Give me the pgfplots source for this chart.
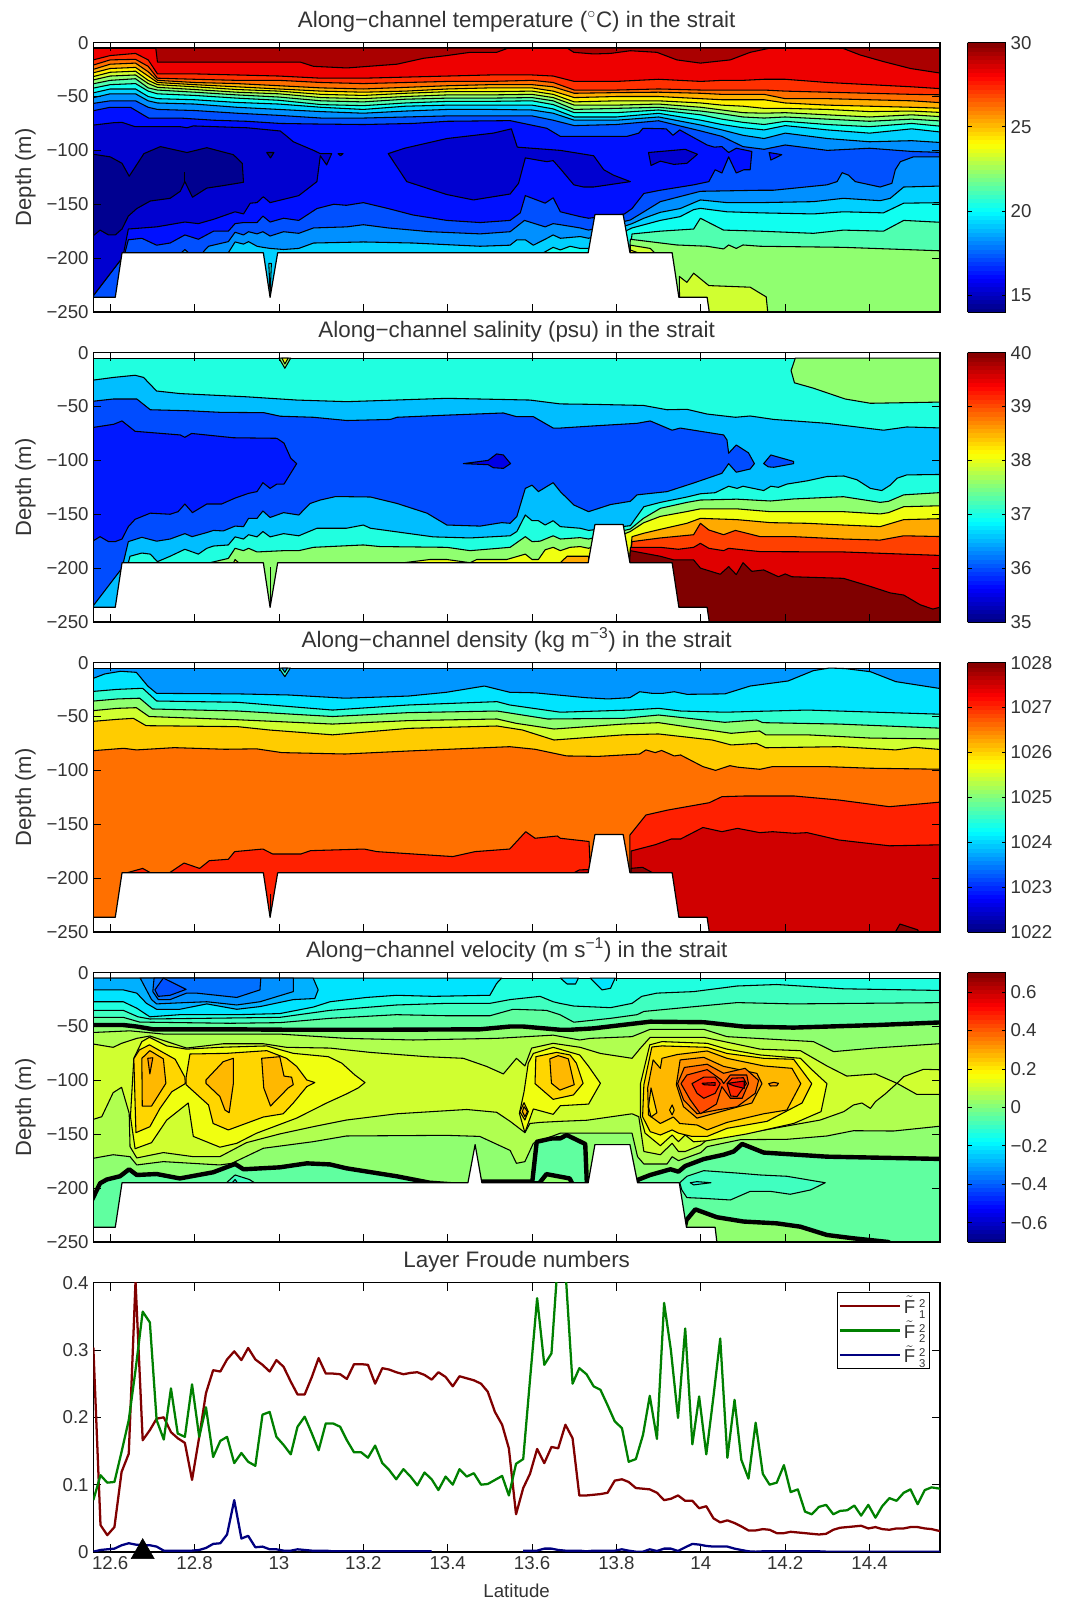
\documentclass[border=0pt]{standalone}
\usepackage{pgfplots}
\usepackage{pgfplotstable}
\pgfplotsset{compat=1.18}
\usepackage{fontspec}
\setmainfont{Liberation Sans}
\definecolor{t14}{RGB}{0,0,144}\definecolor{t15}{RGB}{0,0,208}\definecolor{t16}{RGB}{0,16,255}\definecolor{t17}{RGB}{0,80,255}
\definecolor{t18}{RGB}{0,144,255}\definecolor{t19}{RGB}{0,208,255}\definecolor{t20}{RGB}{16,255,240}\definecolor{t21}{RGB}{80,255,176}
\definecolor{t22}{RGB}{144,255,112}\definecolor{t23}{RGB}{208,255,48}\definecolor{t24}{RGB}{255,240,0}\definecolor{t25}{RGB}{255,176,0}
\definecolor{t26}{RGB}{255,112,0}\definecolor{t27}{RGB}{255,48,0}\definecolor{t28}{RGB}{238,0,0}\definecolor{t29}{RGB}{170,0,0}
\definecolor{sa}{RGB}{0,0,230}\definecolor{sb}{RGB}{0,24,255}\definecolor{sc}{RGB}{0,76,255}\definecolor{sd}{RGB}{0,190,255}
\definecolor{se}{RGB}{32,255,224}\definecolor{sf}{RGB}{144,255,112}\definecolor{sg}{RGB}{240,255,16}\definecolor{sh}{RGB}{255,170,0}
\definecolor{si}{RGB}{255,64,0}\definecolor{sj}{RGB}{224,0,0}\definecolor{sk}{RGB}{128,0,0}
\definecolor{da}{RGB}{0,150,255}\definecolor{db}{RGB}{0,228,255}\definecolor{dc}{RGB}{48,255,208}\definecolor{dd}{RGB}{144,255,112}
\definecolor{de}{RGB}{208,255,48}\definecolor{df}{RGB}{255,204,0}\definecolor{dg}{RGB}{255,112,0}\definecolor{dh}{RGB}{255,32,0}
\definecolor{di}{RGB}{208,0,0}\definecolor{dj}{RGB}{144,0,0}
\definecolor{vn8}{RGB}{0,80,255}\definecolor{vn7}{RGB}{0,112,255}\definecolor{vn6}{RGB}{0,144,255}\definecolor{vn5}{RGB}{0,176,255}
\definecolor{vn4}{RGB}{0,228,255}\definecolor{vn3}{RGB}{32,255,224}\definecolor{vn2}{RGB}{64,255,192}\definecolor{vn1}{RGB}{96,255,160}
\definecolor{v0}{RGB}{144,255,112}\definecolor{v1}{RGB}{176,255,80}\definecolor{v2}{RGB}{208,255,48}\definecolor{v3}{RGB}{240,255,16}
\definecolor{v4}{RGB}{255,214,0}\definecolor{v5}{RGB}{255,184,0}\definecolor{v6}{RGB}{255,150,0}\definecolor{v7}{RGB}{255,112,0}
\definecolor{v8}{RGB}{255,76,0}\definecolor{v9}{RGB}{255,40,0}\definecolor{v10}{RGB}{225,0,0}
\pgfplotsset{
 band/.style={fill=#1,draw=black,line width=.8pt,line join=round},
 thick0/.style={fill=#1,draw=black,line width=3.3pt,line join=round},
 base/.style={scale only axis,width=635pt,height=202pt,xmin=12.56,xmax=14.567,
  tick align=inside,tick pos=both,major tick length=6pt,
  tick style={black,line width=.6pt},axis line style={line width=.8pt},
  xtick={12.6,12.8,13,13.2,13.4,13.6,13.8,14,14.2,14.4},
  tick label style={font=\fontsize{14}{16}\selectfont,text=black!80},
  label style={font=\fontsize{14}{16}\selectfont,text=black!80},
  title style={font=\fontsize{16.8}{19}\selectfont,text=black!80,yshift=-1.5pt},
  },
 panel/.style={base,ymin=-250,ymax=0,axis on top,xticklabels={},
  ytick={-250,-200,-150,-100,-50,0},yticklabels={−250,−200,−150,−100,−50,0},
  ylabel={Depth (m)},
  every axis y label/.style={at={(axis description cs:-0.0803,0.5)},rotate=90,anchor=center,font=\fontsize{16.5}{18}\selectfont,text=black!80},
  colormap/jet,colorbar sampled},
 cb/.style={samples=65,at={(parent axis.north east)},anchor=north west,xshift=12.1pt,width=28.8pt,height=202pt,
  tick align=inside,major tick length=3pt,tick style={black,line width=.5pt},
  yticklabel pos=right,axis line style={line width=.7pt},
  tick label style={font=\fontsize{14}{16}\selectfont,text=black!80}},
}
\newcommand\poly[2]{\addplot[band=#1] coordinates {#2} --cycle;}
\newcommand\lay[3][12.55]{\addplot[band=#2] coordinates {#3 (14.58,-260) (#1,-260)} --cycle;}
\newcommand\terrainA{\addplot[fill=white,draw=black,line width=.9pt,line join=round] coordinates {(12.55,-236.4)(12.612,-236.4)(12.628,-195)(12.963,-195)(12.979,-236.4)(12.997,-195)(13.733,-195)(13.749,-159.6)(13.816,-159.6)(13.832,-195)(13.932,-195)(13.948,-236.4)(14.015,-236.4)(14.02,-250)(14.02,-262)(12.55,-262)} --cycle;}
\newcommand\Fent[1]{\rule[-8pt]{0pt}{21pt}\smash{$\tilde{\mbox{F}}$\hspace{3pt}\rlap{\raisebox{4.5pt}{\fontsize{8.5}{9}\selectfont 2}}\raisebox{-3.5pt}{\fontsize{8.5}{9}\selectfont #1}}}
\pgfplotstableread{
lat L28 L27 L26 L25 L24 L23 L22 L21 L20 L19 L18
12.55 -17 -22 -26 -29 -32.5 -35.5 -39 -43 -47.5 -52 -57
12.60 -12 -16 -20 -24 -27.5 -31 -35 -39 -43 -47.5 -54
12.66 -10 -15.5 -19 -23 -26.5 -30 -33.5 -38 -43 -47.5 -54
12.69 -16 -22 -27 -31 -35 -38 -42 -45 -50 -54 -60
12.712 -29 -33 -35 -37 -39 -41.5 -44 -47.5 -52 -56 -62
12.8 -29 -34 -37 -39 -41 -43.5 -46 -49 -53 -57 -63
12.9 -30 -35 -38 -41 -43.5 -46 -48.5 -51.5 -55.5 -60 -65.5
13.0 -31 -35 -40 -43 -45 -47.5 -50.5 -53.5 -57 -62 -67.5
13.1 -33 -37 -42 -45 -48 -51 -54 -57.5 -60 -64 -70
13.2 -33 -38 -43 -46 -49 -52 -55 -58.5 -62 -65.5 -70
13.3 -32 -37 -41.5 -45 -47 -50 -52.5 -56 -59 -63.5 -69
13.4 -31 -36 -40 -43 -45.5 -48.5 -51.5 -54.5 -58 -62 -68
13.5 -30 -36 -39 -42 -45.5 -48.5 -51.5 -54.5 -58 -62 -68
13.6 -30 -35 -39 -42 -45 -48 -51 -54 -58 -62.5 -68
13.65 -31 -37 -41 -45 -48 -51 -54 -57.5 -61.5 -65.5 -72
13.7 -36 -44 -47 -51 -55 -58 -62 -65 -69 -72 -77
13.8 -36 -44 -46.4 -50 -54 -58 -61 -65 -69 -72 -76
13.9 -34 -43 -46 -50 -54 -57 -60 -62.5 -65.6 -69 -72.5
14.0 -36 -44 -47 -52 -56 -60 -63.5 -67 -72 -76.5 -82
14.05 -35 -44 -48 -53 -58 -62.5 -66 -71 -76 -81 -87
14.1 -35 -44 -48 -53 -59 -65 -69 -74 -79 -86 -96.5
14.15 -34 -44 -48 -53 -61 -65.5 -70 -76 -81 -89 -99
14.2 -34 -45 -52 -56 -61 -65 -69 -73 -77 -84 -95
14.3 -37 -46 -52 -58 -62 -67 -71 -76 -81 -89 -100
14.4 -39 -47 -53 -59 -64 -69 -73 -78 -84 -92 -98
14.5 -41 -48 -54 -60 -63.5 -67 -71 -75 -80 -91 -101
14.58 -43 -48.5 -56 -61 -65 -69 -73 -78 -83.5 -93 -102
14.58 -260 -260 -260 -260 -260 -260 -260 -260 -260 -260 -260
12.55 -260 -260 -260 -260 -260 -260 -260 -260 -260 -260 -260
}\Tup
\pgfplotstableread{
lat red green blue
12.56 .304 .077 .0005
12.577 .040 .114 .003
12.593 .025 .103 .004
12.61 .037 .104 .005
12.627 .119 .149 .01
12.644 .146 .196 .013
12.66 .402 .27 .011
12.677 .166 .357 .01
12.694 .181 .341 .01
12.71 .198 .196 .008
12.727 .2 .167 .002
12.744 .178 .243 .002
12.76 .169 .176 .002
12.777 .162 .171 .002
12.794 .107 .249 .002
12.811 .171 .171 .003
12.827 .236 .215 .006
12.844 .27 .141 .012
12.861 .268 .165 .013
12.877 .286 .171 .026
12.894 .298 .132 .077
12.911 .285 .147 .02
12.927 .303 .134 .024
12.944 .286 .128 .007
12.961 .278 .204 .008
12.978 .268 .208 .004
12.994 .285 .171 .004
13.011 .275 .159 .002
13.028 .253 .145 .002
13.044 .234 .186 .004
13.061 .234 .201 .003
13.078 .26 .176 .002
13.094 .288 .151 .002
13.111 .265 .191 .002
13.128 .265 .191 .001
13.145 .264 .186 .001
13.161 .257 .166 .001
13.178 .279 .148 .001
13.195 .279 .148 .001
13.211 .278 .14 .001
13.228 .25 .158 .001
13.245 .273 .132 .001
13.261 .271 .122 .001
13.278 .267 .108 .001
13.295 .264 .123 .001
13.312 .266 .112 .001
13.328 .267 .099 .001
13.345 .263 .118 .001
13.362 .256 .108 .001
13.378 .267 .092 nan
13.395 .26 .112 nan
13.412 .246 .1 nan
13.428 .261 .123 nan
13.445 .258 .112 nan
13.462 .255 .117 nan
13.479 .25 .1 nan
13.495 .238 .101 nan
13.512 .208 .107 nan
13.529 .189 .113 nan
13.545 .154 .084 nan
13.562 .056 .131 nan
13.579 .095 .138 .002
13.595 .116 .255 .002
13.612 .153 .377 .002
13.629 .132 .278 .005
13.646 .156 .295 .005
13.662 .154 .44 .003
13.679 .189 .42 .002
13.696 .169 .25 .002
13.712 .084 .273 .002
13.729 .084 .264 .001
13.746 .085 .246 .002
13.762 .086 .241 .002
13.779 .088 .218 .002
13.796 .106 .194 .002
13.813 .108 .184 .004
13.829 .104 .134 .002
13.846 .095 .138 .0005
13.863 .094 .174 .0005
13.879 .093 .232 .004
13.896 .088 .168 .0015
13.913 .077 .37 .005
13.929 .079 .3 .005
13.946 .084 .199 .0015
13.963 .076 .332 .007
13.98 .076 .16 .012
13.996 .065 .231 .011
14.013 .068 .145 .009
14.03 .05 .231 .008
14.046 .044 .317 .008
14.063 .047 .14 .008
14.08 .043 .226 .005
14.096 .038 .137 .003
14.113 .032 .109 .001
14.13 .032 .192 .0005
14.147 .034 .116 .001
14.163 .033 .1 .001
14.18 .028 .103 .001
14.197 .028 .129 .001
14.213 .03 .089 .001
14.23 .029 .093 .001
14.247 .028 .06 .001
14.263 .027 .056 .001
14.28 .026 .067 .001
14.297 .027 .07 .0005
14.314 .033 .056 .0005
14.33 .036 .061 .0005
14.347 .037 .062 .0005
14.364 .038 .069 .0005
14.38 .039 .054 .0005
14.397 .035 .07 .0005
14.414 .037 .051 .0005
14.43 .034 .068 .0005
14.447 .033 .08 .0005
14.464 .035 .076 .0005
14.481 .035 .088 .0005
14.497 .037 .093 .0005
14.514 .037 .071 .0005
14.531 .035 .092 .0005
14.547 .034 .096 .0005
14.567 .031 .094 .0005
}\Tfr
\begin{document}
\begin{tikzpicture}
\path[use as bounding box] (0,0) rectangle (801.75pt,1200.75pt);
% ---------- temperature
\begin{axis}[panel,at={(70pt,966.75pt)},anchor=south west,
 title={Along−channel temperature ($^{\circ}$C) in the strait},
 point meta min=14,point meta max=30,
 colorbar style={cb,ytick={15,20,25,30},yticklabels={15,20,25,30}}]
\poly{t28}{(12.55,-5)(14.58,-5)(14.58,-260)(12.55,-260)}
\poly{t29}{(12.708,-5)(12.712,-18)(12.805,-18)(12.923,-18)(13.05,-18)(13.082,-22)(13.161,-23.5)(13.28,-20)(13.343,-14.5)(13.398,-12)(13.453,-9)(13.516,-9)(13.544,-5)}
\poly{t29}{(13.683,-5)(13.699,-9)(13.746,-10.5)(13.786,-10)(13.833,-7.5)(13.896,-9)(13.943,-16)(13.999,-19)(14.07,-16)(14.117,-9)(14.165,-5)}
\poly{t29}{(14.335,-5)(14.378,-11.5)(14.433,-17.6)(14.497,-24)(14.58,-29)(14.58,-5)}
\addplot[band=t27] table[x=lat,y=L28]{\Tup} --cycle;
\addplot[band=t26] table[x=lat,y=L27]{\Tup} --cycle;
\addplot[band=t25] table[x=lat,y=L26]{\Tup} --cycle;
\addplot[band=t24] table[x=lat,y=L25]{\Tup} --cycle;
\addplot[band=t23] table[x=lat,y=L24]{\Tup} --cycle;
\addplot[band=t22] table[x=lat,y=L23]{\Tup} --cycle;
\addplot[band=t21] table[x=lat,y=L22]{\Tup} --cycle;
\addplot[band=t20] table[x=lat,y=L21]{\Tup} --cycle;
\addplot[band=t19] table[x=lat,y=L20]{\Tup} --cycle;
\addplot[band=t18] table[x=lat,y=L19]{\Tup} --cycle;
\addplot[band=t17] table[x=lat,y=L18]{\Tup} --cycle;
\poly{t16}{(12.55,-64)(12.6,-60)(12.648,-60)(12.691,-70)(12.766,-70)(12.845,-72)(12.924,-73)(13.003,-75)(13.082,-75.5)(13.2,-76)(13.318,-75)(13.398,-73)(13.548,-72.4)(13.635,-79.5)(13.667,-87)(13.825,-87)(13.853,-84)(13.863,-79.5)(13.918,-80)(13.934,-86)(13.95,-81)(14.015,-95)(14.032,-97)(14.05,-96.5)(14.066,-102)(14.084,-98)(14.121,-101)(14.117,-118)(14.102,-118)(14.084,-121)(14.066,-106)(14.05,-121)(14.034,-118)(14.019,-129)(13.983,-132)(13.904,-137)(13.865,-140)(13.837,-154)(13.819,-159)(13.734,-163)(13.714,-161.5)(13.667,-157)(13.65,-144)(13.631,-149)(13.584,-142)(13.572,-158)(13.548,-165)(13.477,-167)(13.398,-165)(13.318,-160)(13.259,-154)(13.2,-148.5)(13.16,-151)(13.13,-150)(13.09,-154)(13.047,-165)(13.011,-163)(12.979,-166.5)(12.962,-161)(12.948,-167)(12.916,-167)(12.896,-168)(12.88,-175)(12.845,-175)(12.809,-182.5)(12.777,-178.5)(12.742,-186)(12.71,-188)(12.675,-181.6)(12.643,-183)(12.635,-195)(12.628,-200)(12.55,-240)}
\poly{t15}{(12.55,-77)(12.608,-74.3)(12.628,-74)(12.659,-78)(12.766,-78)(12.782,-79)(12.797,-77.3)(12.924,-79)(13.003,-82)(13.019,-87)(13.034,-92)(13.082,-100)(13.098,-103)(13.125,-103)(13.113,-113.5)(13.098,-105)(13.09,-129)(13.047,-142)(12.979,-148.5)(12.963,-143)(12.948,-148.5)(12.932,-149)(12.916,-159)(12.896,-157)(12.845,-164)(12.809,-168)(12.777,-166.5)(12.71,-171)(12.643,-173)(12.632,-195)(12.628,-200)(12.55,-240)}
\poly{t15}{(13.259,-103)(13.298,-98)(13.398,-89)(13.508,-84)(13.551,-80)(13.565,-97)(13.667,-100)(13.746,-105)(13.77,-118)(13.793,-123)(13.833,-129)(13.746,-134)(13.722,-134)(13.699,-132)(13.667,-117)(13.65,-109.5)(13.635,-110.5)(13.584,-107)(13.568,-130.6)(13.548,-140.5)(13.461,-146)(13.398,-141)(13.303,-129)}
\poly{t15}{(13.876,-102)(13.882,-114)(13.904,-110)(13.936,-113)(13.967,-112)(13.992,-103.6)(13.963,-99)}
\poly{t16}{(14.162,-102)(14.166,-109)(14.192,-104)}
\poly{t14}{(12.971,-102)(12.98,-107)(12.988,-102)}
\poly{t15}{(13.14,-103)(13.146,-105)(13.152,-103)}
\poly{t14}{(12.55,-182.5)(12.576,-174)(12.596,-178.5)(12.612,-178.5)(12.628,-173)(12.643,-161)(12.663,-154)(12.695,-147)(12.742,-144.5)(12.766,-138)(12.777,-129)(12.795,-143.5)(12.829,-135)(12.868,-132.7)(12.916,-129.6)(12.913,-112)(12.892,-104)(12.829,-97.5)(12.782,-102)(12.719,-96.5)(12.68,-103)(12.645,-124)(12.628,-112)(12.6,-106)(12.55,-103)}
\addplot[draw=black,line width=.8pt] coordinates {(12.777,-120)(12.777,-129)};
\lay[12.64]{t18}{(12.64,-200)(12.755,-200)(12.777,-192)(12.80,-200)(12.82,-200)(12.821,-194)(12.833,-189)(12.88,-184.7)(12.896,-176)(12.916,-178.5)(12.928,-175.5)(12.948,-177.5)(12.962,-175.5)(12.979,-179.5)(13.011,-175.5)(13.047,-177)(13.082,-172)(13.161,-171)(13.2,-169)(13.259,-172)(13.358,-175.5)(13.477,-177.5)(13.548,-175.5)(13.582,-165)(13.631,-171)(13.65,-168)(13.667,-169)(13.714,-172)(13.734,-174)(13.833,-164.6)(13.865,-157)(13.904,-147.6)(13.999,-138)(14.141,-137)(14.172,-137)(14.299,-132)(14.323,-129)(14.335,-120.7)(14.35,-123)(14.366,-129)(14.425,-134)(14.453,-130.6)(14.461,-118)(14.473,-110.5)(14.504,-106)(14.58,-106)}
\lay[12.87]{t19}{(12.87,-200)(12.88,-195)(12.896,-185)(12.916,-187)(12.928,-184.7)(12.948,-189)(12.962,-190)(12.979,-191)(13.011,-192)(13.047,-191)(13.082,-186)(13.2,-185)(13.318,-186)(13.477,-189)(13.548,-188)(13.564,-183)(13.584,-183)(13.603,-188)(13.631,-182.5)(13.65,-178.5)(13.667,-181.6)(13.714,-180)(13.734,-181.6)(13.837,-168)(13.865,-163)(13.904,-157.5)(13.951,-154)(13.999,-146)(14.062,-148.5)(14.141,-148.5)(14.267,-147.6)(14.338,-144.5)(14.425,-146.7)(14.449,-144.5)(14.481,-134)(14.58,-133)}
\lay[13.62]{t20}{(13.62,-200)(13.627,-195)(13.65,-190)(13.667,-192.4)(13.69,-189)(13.714,-191)(13.734,-191)(13.837,-172)(13.904,-165)(13.951,-161.5)(13.983,-155)(13.999,-153.8)(14.062,-157)(14.141,-158)(14.267,-159)(14.338,-157)(14.433,-158)(14.481,-149)(14.58,-148.5)}
\lay[13.83]{t21}{(13.83,-200)(13.837,-177.6)(13.904,-175)(13.983,-173)(13.999,-163)(14.054,-174)(14.141,-175)(14.267,-177)(14.338,-174)(14.433,-175)(14.481,-165)(14.58,-167)}
\lay[13.83]{t22}{(13.83,-200)(13.833,-182.5)(13.943,-187.8)(14.015,-189)(14.054,-191.5)(14.066,-187.8)(14.084,-191)(14.1,-187.8)(14.141,-189)(14.338,-190)(14.58,-193.4)}
\poly{t23}{(13.949,-217)(13.967,-222.5)(13.983,-214)(14.019,-225.5)(14.117,-227)(14.155,-236)(14.16,-255)(13.95,-255)}
\poly{t23}{(13.833,-188)(13.88,-191)(13.896,-197)(13.833,-197)}
\poly{t24}{(13.833,-192.5)(13.865,-197)(13.833,-197)}
\poly{t20}{(12.976,-205)(12.979,-234)(12.982,-205)}
\terrainA
\end{axis}
% ---------- salinity
\begin{axis}[panel,at={(70pt,734.25pt)},anchor=south west,
 title={Along−channel salinity (psu) in the strait},
 point meta min=35,point meta max=40,
 colorbar style={cb,ytick={35,36,37,38,39,40},yticklabels={35,36,37,38,39,40}}]
\poly{se}{(12.55,-5)(14.58,-5)(14.58,-260)(12.55,-260)}
\poly{sf}{(14.224,-5)(14.214,-16.7)(14.222,-28)(14.267,-33)(14.342,-43)(14.402,-47)(14.58,-45.8)(14.58,-5)}
\poly{sf}{(13,-5)(13.014,-14.5)(13.028,-5)}
\poly{sg}{(13.007,-5)(13.014,-10.5)(13.022,-5)}
\lay{sd}{(12.55,-26)(12.608,-23)(12.659,-21)(12.679,-23)(12.71,-35.6)(12.766,-38)(12.924,-41)(13.042,-44)(13.161,-45.5)(13.398,-42.4)(13.595,-44)(13.667,-47.6)(13.746,-48)(13.864,-49)(13.92,-53)(13.967,-52.6)(14.015,-57)(14.082,-60)(14.117,-58.8)(14.173,-62)(14.299,-65.6)(14.433,-72)(14.488,-69)(14.58,-70)}
\poly{sc}{(12.55,-45.5)(12.608,-43)(12.663,-43)(12.695,-53)(12.79,-54)(12.861,-55.4)(12.964,-55.7)(13.003,-59)(13.082,-60)(13.161,-63)(13.264,-62)(13.28,-60)(13.398,-58)(13.532,-56)(13.563,-59.4)(13.603,-59.4)(13.65,-70)(13.667,-70)(13.746,-68)(13.849,-65.6)(13.88,-63.4)(13.932,-72)(13.951,-70)(14.054,-76.4)(14.062,-81)(14.066,-93.4)(14.084,-85.7)(14.113,-93)(14.127,-103)(14.117,-108)(14.084,-111)(14.066,-103)(14.05,-112)(13.983,-121)(13.92,-129)(13.849,-132)(13.833,-138)(13.786,-141)(13.734,-147.6)(13.699,-141.4)(13.667,-129)(13.65,-120.7)(13.615,-129)(13.6,-123)(13.584,-126)(13.564,-152)(13.548,-158.4)(13.528,-157.8)(13.477,-161)(13.398,-160)(13.351,-149)(13.28,-140)(13.217,-134)(13.161,-133.7)(13.133,-133.7)(13.098,-136.8)(13.074,-140)(13.047,-150.7)(13.011,-148.5)(12.979,-153)(12.962,-147)(12.948,-153.8)(12.928,-153.8)(12.916,-161.5)(12.896,-161)(12.868,-165.5)(12.845,-165)(12.829,-167)(12.794,-170.8)(12.777,-168)(12.742,-173)(12.71,-175)(12.675,-171.4)(12.643,-175.4)(12.628,-200)(12.55,-240)}
\poly{sc}{(14.149,-103)(14.166,-95)(14.22,-101)(14.22,-103)(14.173,-106.4)(14.16,-106)}
\poly{sb}{(12.55,-70)(12.608,-66.5)(12.628,-63.4)(12.659,-73)(12.766,-76.4)(12.777,-78.6)(12.793,-75)(12.892,-79)(12.995,-79.5)(13.012,-84)(13.028,-98)(13.042,-103)(13.012,-122)(12.995,-122)(12.979,-126)(12.962,-120.7)(12.948,-129)(12.928,-130.6)(12.896,-135)(12.864,-140.5)(12.829,-140.5)(12.795,-148.5)(12.777,-140.5)(12.761,-147.6)(12.742,-150)(12.695,-149)(12.659,-154.7)(12.643,-161.5)(12.628,-173)(12.612,-175.4)(12.596,-175.4)(12.576,-170.8)(12.55,-177)}
\poly{sa}{(13.437,-103)(13.496,-100)(13.516,-94)(13.532,-95)(13.549,-103)(13.532,-107.4)(13.508,-106.8)(13.496,-104)}
\lay[12.63]{se}{(12.63,-200)(12.643,-195)(12.647,-189)(12.675,-186)(12.695,-187)(12.712,-194)(12.742,-189)(12.777,-182.5)(12.809,-187)(12.829,-181.6)(12.845,-179.5)(12.88,-178.5)(12.896,-171)(12.916,-173)(12.928,-169)(12.948,-171)(12.962,-166)(12.979,-171)(13.011,-168)(13.047,-170)(13.09,-163)(13.16,-163)(13.2,-160)(13.217,-163)(13.366,-171)(13.453,-172)(13.548,-170)(13.564,-166)(13.584,-150.7)(13.6,-156)(13.615,-156)(13.631,-160)(13.65,-156)(13.667,-161.5)(13.714,-163)(13.734,-165)(13.833,-160.6)(13.865,-143)(13.904,-139)(13.967,-134)(13.999,-131)(14.034,-130)(14.066,-124)(14.086,-126)(14.1,-124)(14.149,-128)(14.166,-124)(14.184,-125)(14.204,-122)(14.252,-119)(14.299,-115)(14.339,-114.5)(14.37,-118)(14.402,-126)(14.429,-128)(14.449,-123)(14.465,-116.6)(14.488,-113.5)(14.58,-113)}
\lay[12.83]{sf}{(12.83,-200)(12.836,-195)(12.88,-191)(12.896,-181.6)(12.916,-183.8)(12.928,-181.6)(12.948,-185)(13.011,-183.8)(13.047,-183.8)(13.082,-180.7)(13.2,-178.5)(13.24,-180)(13.398,-180.7)(13.453,-183.8)(13.548,-180.7)(13.584,-170.8)(13.6,-175.4)(13.619,-175)(13.65,-170)(13.667,-173)(13.714,-171.7)(13.734,-173)(13.833,-163.7)(13.864,-153.8)(13.904,-144.5)(13.967,-139)(13.999,-136.8)(14.086,-136)(14.165,-137.7)(14.22,-135.8)(14.338,-133.7)(14.425,-139)(14.445,-138)(14.481,-132)(14.58,-129.6)}
\poly{sg}{(12.89,-197)(12.896,-192)(12.91,-197)}
\lay[13.29]{sg}{(13.29,-200)(13.296,-195)(13.358,-192)(13.398,-192)(13.453,-195)(13.469,-192)(13.54,-192)(13.584,-187)(13.6,-192)(13.615,-192)(13.631,-183)(13.65,-180.7)(13.667,-183.8)(13.69,-180.7)(13.714,-180)(13.734,-181.6)(13.833,-166)(13.864,-158)(13.904,-152)(13.967,-147.5)(13.999,-145)(14.086,-145)(14.165,-147.6)(14.338,-147.6)(14.425,-149.7)(14.445,-148.5)(14.481,-143)(14.58,-142)}
\poly{sh}{(13.66,-197)(13.667,-195)(13.683,-189)(13.734,-189)(13.734,-197)}
\lay[13.83]{sh}{(13.83,-200)(13.837,-170.8)(13.864,-167.7)(13.904,-164)(13.967,-158.4)(13.999,-153.8)(14.086,-155)(14.165,-157.8)(14.252,-158.4)(14.338,-160)(14.425,-161.5)(14.481,-155)(14.58,-154)}
\lay[13.83]{si}{(13.83,-200)(13.837,-175.4)(13.904,-172)(13.983,-169)(13.999,-158.4)(14.019,-164.6)(14.054,-169)(14.082,-165)(14.141,-170.8)(14.22,-170.8)(14.338,-173)(14.425,-174)(14.481,-170)(14.58,-170.8)}
\lay[13.83]{sj}{(13.83,-200)(13.833,-180.7)(13.904,-180.7)(13.947,-182.5)(13.983,-180.7)(13.999,-177)(14.019,-181.6)(14.054,-183.8)(14.066,-181.6)(14.141,-184.7)(14.338,-185)(14.58,-188.4)}
\lay[13.83]{sk}{(13.83,-200)(13.833,-183.8)(13.904,-189)(13.936,-192.4)(13.983,-192.4)(13.999,-200)(14.046,-205.7)(14.066,-198.6)(14.084,-206)(14.1,-195)(14.121,-203)(14.149,-201.7)(14.184,-208)(14.2,-205.4)(14.216,-208)(14.338,-209.5)(14.402,-217)(14.449,-223)(14.481,-225)(14.52,-234)(14.55,-238)(14.58,-235)}
\addplot[draw=black,line width=.8pt] coordinates {(12.979,-199)(12.979,-236)};
\terrainA
\end{axis}
% ---------- density
\begin{axis}[panel,at={(70pt,501.75pt)},anchor=south west,
 title={Along−channel density (kg m\textsuperscript{−3}) in the strait},
 point meta min=1022,point meta max=1028,
 colorbar style={cb,ytick={1022,1023,1024,1025,1026,1027,1028},yticklabels={1022,1023,1024,1025,1026,1027,1028}}]
\poly{da}{(12.55,-5)(14.58,-5)(14.58,-260)(12.55,-260)}
\lay{db}{(12.55,-16)(12.587,-10.5)(12.625,-8)(12.662,-9)(12.689,-21.7)(12.71,-28.5)(12.902,-29)(13.022,-30)(13.157,-33)(13.307,-31)(13.397,-27.5)(13.487,-21.7)(13.547,-27.5)(13.607,-28)(13.727,-32.5)(13.78,-33.7)(13.832,-32.5)(13.855,-27)(13.885,-28.5)(13.91,-28.5)(13.937,-27)(13.967,-29.4)(14.057,-29)(14.117,-21.7)(14.207,-17)(14.267,-7.4)(14.305,-5)(14.342,-5.5)(14.402,-8.4)(14.462,-17.6)(14.58,-24.8)}
\lay{dc}{(12.55,-27)(12.617,-24.8)(12.677,-23.8)(12.71,-35.6)(12.902,-36.8)(13.127,-44)(13.307,-39.3)(13.517,-36.2)(13.547,-39.3)(13.667,-46)(13.832,-44)(13.9,-42.4)(13.952,-44.9)(14.057,-46)(14.252,-44)(14.58,-48)}
\lay{dd}{(12.55,-36)(12.617,-33.7)(12.67,-33)(12.7,-43)(12.902,-44.9)(13.127,-50)(13.307,-46.4)(13.517,-44.9)(13.637,-52.3)(13.817,-51.7)(13.9,-48.6)(14.057,-55.4)(14.132,-53.2)(14.147,-55.7)(14.327,-57)(14.58,-61)}
\lay{de}{(12.55,-44.9)(12.617,-42.4)(12.662,-41.8)(12.692,-50)(12.902,-53)(13.127,-57)(13.307,-53.8)(13.517,-52.3)(13.562,-56.3)(13.652,-61.6)(13.817,-57)(13.9,-55.7)(14.072,-65.6)(14.139,-63.4)(14.154,-67)(14.252,-67)(14.402,-70)(14.58,-70.9)}
\lay{df}{(12.55,-54.8)(12.617,-52.6)(12.655,-51.7)(12.685,-58.5)(12.902,-59.4)(12.977,-62.5)(13.127,-67)(13.307,-61)(13.517,-58.8)(13.577,-62.5)(13.652,-71.8)(13.817,-67)(13.9,-66.2)(14.027,-71.8)(14.072,-76.4)(14.132,-75)(14.154,-79)(14.327,-78)(14.462,-81)(14.507,-78.6)(14.58,-81)}
\lay{dg}{(12.55,-82)(12.632,-79.5)(12.662,-81)(12.752,-78.9)(12.872,-80.4)(12.947,-80)(13.007,-83.5)(13.157,-84.8)(13.307,-82)(13.547,-78)(13.607,-80.4)(13.682,-86.6)(13.757,-87)(13.855,-84.8)(13.87,-81)(13.892,-83.5)(13.907,-81.5)(13.937,-86.6)(13.952,-85.7)(14.005,-96.5)(14.035,-100)(14.069,-95.6)(14.087,-97)(14.14,-99)(14.17,-96.5)(14.297,-96.5)(14.402,-98)(14.58,-99)}
\lay[12.63]{dh}{(12.63,-200)(12.64,-195)(12.677,-191)(12.7,-196)(12.737,-196)(12.775,-186)(12.812,-191)(12.835,-183.8)(12.88,-182.5)(12.895,-175.4)(12.962,-173)(12.985,-177.6)(13.052,-177.6)(13.075,-174.5)(13.202,-173)(13.232,-175.4)(13.412,-180)(13.465,-175.4)(13.547,-173)(13.585,-156.9)(13.607,-163)(13.66,-160.9)(13.667,-163)(13.735,-166)(13.739,-200)(13.832,-200)(13.832,-160)(13.87,-141.4)(13.922,-136.8)(14.02,-130)(14.05,-124.4)(14.102,-123.8)(14.222,-123.8)(14.327,-127.5)(14.447,-133.7)(14.58,-129)}
\lay[13.69]{di}{(13.69,-197)(13.712,-192.4)(13.735,-192)(13.74,-200)(13.835,-200)(13.835,-174.8)(13.892,-169)(13.93,-163.7)(13.952,-163.7)(14.005,-153)(14.05,-156.9)(14.087,-153.8)(14.14,-157.8)(14.17,-156.9)(14.222,-158.4)(14.252,-157.8)(14.327,-164.6)(14.447,-170)(14.58,-169)}
\poly{dj}{(13.835,-190.9)(13.862,-190)(13.895,-197)(13.835,-197)}
\poly{dj}{(14.454,-255)(14.472,-242.6)(14.514,-248)(14.522,-255)}
\poly{dc}{(13,-5)(13.014,-13)(13.027,-5)}
\poly{da}{(13.007,-5)(13.014,-9)(13.02,-5)}
\addplot[draw=black,line width=.8pt] coordinates {(12.979,-215)(12.979,-236)};
\terrainA
\end{axis}
% ---------- velocity
\begin{axis}[panel,at={(70pt,269.25pt)},anchor=south west,
 title={Along−channel velocity (m s\textsuperscript{−1}) in the strait},
 point meta min=-0.7,point meta max=0.7,
 colorbar style={cb,ytick={-0.6,-0.4,-0.2,0,0.2,0.4,0.6},yticklabels={−0.6,−0.4,−0.2,0,0.2,0.4,0.6}}]
\poly{vn3}{(12.55,-5)(14.58,-5)(14.58,-260)(12.55,-260)}
\poly{vn4}{(12.55,-5)(12.55,-27)(12.631,-27)(12.663,-33)(12.694,-41)(12.765,-39)(12.9,-39)(13.002,-38)(13.081,-32)(13.121,-27)(13.208,-23)(13.279,-21)(13.366,-22)(13.5,-21)(13.516,-10)(13.528,-5)}
\poly{vn5}{(12.55,-5)(12.55,-16)(12.631,-16)(12.663,-19)(12.686,-28.5)(12.71,-34)(12.765,-34)(12.829,-29)(12.9,-34)(12.955,-31.5)(13.034,-25)(13.085,-24)(13.093,-16)(13.081,-5)}
\poly{vn6}{(12.671,-5)(12.698,-25)(12.71,-29)(12.765,-28)(12.829,-27)(12.9,-30)(12.955,-27)(13.034,-17.6)(13.034,-5)}
\poly{vn7}{(12.704,-5)(12.701,-17.6)(12.714,-25)(12.742,-25)(12.781,-19)(12.805,-19)(12.9,-23)(12.955,-16)(12.957,-5)}
\poly{vn8}{(12.706,-16)(12.726,-5)(12.78,-15.5)(12.742,-21)(12.714,-22)}
\poly{vn4}{(13.667,-5)(13.683,-10.5)(13.703,-10.5)(13.71,-5)}
\poly{vn4}{(13.738,-5)(13.766,-16)(13.786,-14.5)(13.797,-5)}
\lay{vn2}{(12.55,-35)(12.631,-35)(12.666,-41)(12.694,-43)(12.9,-42)(13.002,-41.5)(13.121,-35)(13.279,-30)(13.397,-28.5)(13.5,-28.5)(13.548,-25)(13.619,-22)(13.65,-27)(13.666,-28.5)(13.699,-31)(13.786,-32.5)(13.837,-28.5)(13.86,-22)(13.896,-19)(13.983,-17.6)(14.086,-12.4)(14.18,-11)(14.339,-15)(14.58,-16.6)}
\lay{vn1}{(12.55,-41.5)(12.631,-41.5)(12.671,-46)(12.694,-46)(12.884,-47)(13.002,-46.4)(13.121,-42.4)(13.279,-39)(13.397,-40)(13.5,-40)(13.555,-34)(13.634,-35)(13.666,-39)(13.699,-46)(13.786,-42.4)(13.849,-39)(13.865,-36)(13.983,-31.6)(14.086,-27.8)(14.22,-29)(14.58,-27.8)}
\addplot[thick0=v0] coordinates {(12.55,-48.6)(12.631,-48.6)(12.663,-50)(12.702,-52.6)(12.884,-52.6)(13.026,-53)(13.239,-53)(13.476,-52.6)(13.548,-50)(13.579,-50)(13.666,-53)(13.691,-53)(13.746,-51.7)(13.88,-45.5)(14.007,-46)(14.1,-50)(14.22,-51)(14.418,-48.6)(14.58,-46)(14.58,-260)(12.55,-260)} --cycle;
\poly{v1}{(12.55,-55.7)(12.647,-54)(12.726,-57)(12.844,-57)(13.002,-57)(13.16,-61)(13.318,-62.5)(13.516,-61)(13.65,-58)(13.713,-62.5)(13.738,-61)(13.837,-59.4)(13.88,-52.6)(14.007,-52.6)(14.062,-59.4)(14.267,-64)(14.315,-73.3)(14.41,-70)(14.58,-65.6)(14.58,-142)(14.457,-147)(14.362,-146.7)(14.299,-151.6)(14.204,-154.7)(14.094,-155)(14.015,-161.5)(14,-167)(13.947,-174.5)(13.932,-170.8)(13.92,-177.6)(13.865,-177.6)(13.85,-170.8)(13.837,-149)(13.722,-149)(13.667,-149)(13.603,-158.4)(13.583,-175.4)(13.563,-177)(13.548,-165)(13.476,-152)(13.397,-151)(13.16,-151.6)(13.081,-156.9)(12.963,-163)(12.888,-177)(12.86,-178.5)(12.726,-175.4)(12.663,-178.5)(12.647,-170.8)(12.607,-169)(12.55,-173)}
\poly{v2}{(12.55,-65.6)(12.607,-69.3)(12.627,-65.6)(12.663,-61)(12.694,-58.8)(12.781,-70)(12.868,-66)(12.963,-66)(13.018,-69.3)(13.121,-70)(13.216,-74)(13.35,-78)(13.437,-79.5)(13.492,-87)(13.532,-94)(13.563,-79.5)(13.583,-86.6)(13.599,-70)(13.65,-65.6)(13.714,-69.3)(13.762,-75)(13.837,-79.5)(13.857,-70)(13.88,-60)(14.007,-60)(14.141,-71)(14.236,-72.4)(14.299,-86.6)(14.346,-96)(14.414,-94)(14.465,-102.7)(14.481,-96.5)(14.528,-89.7)(14.58,-90.3)(14.58,-113)(14.512,-113)(14.465,-102.7)(14.437,-112.6)(14.414,-119.7)(14.402,-126)(14.382,-121)(14.362,-122.8)(14.339,-129)(14.283,-136.8)(14.109,-149)(14.015,-155)(14,-160)(13.963,-166)(13.947,-166)(13.932,-158.4)(13.904,-169)(13.865,-166)(13.853,-133.7)(13.837,-131)(13.73,-137)(13.667,-138)(13.619,-139)(13.595,-140)(13.583,-148.5)(13.548,-138)(13.516,-129.6)(13.445,-127)(13.279,-131)(13.16,-136.8)(13.081,-143)(13.002,-149.7)(12.923,-157.8)(12.86,-170.8)(12.797,-170.8)(12.726,-167)(12.663,-172)(12.647,-161.5)(12.645,-130.6)(12.627,-106.4)(12.607,-111.4)(12.58,-133.7)(12.55,-137.4)}
\poly{v3}{(12.656,-79.5)(12.675,-64)(12.693,-60)(12.734,-68)(12.781,-71)(12.86,-69.3)(12.971,-68)(13.034,-74.9)(13.117,-78)(13.149,-84)(13.18,-95)(13.204,-102)(13.188,-107)(13.16,-112.6)(13.113,-121)(13.042,-135)(12.947,-149)(12.9,-158.4)(12.86,-162)(12.797,-152)(12.785,-121)(12.734,-136.8)(12.698,-157.8)(12.659,-163.4)(12.648,-133.7)}
\poly{v4}{(12.656,-79.8)(12.669,-71.8)(12.693,-67)(12.754,-80.4)(12.777,-97)(12.778,-103)(12.746,-110.5)(12.718,-126)(12.694,-143)(12.661,-148.5)}
\poly{v4}{(12.78,-97)(12.789,-75.5)(12.876,-74.9)(12.971,-72.4)(13.018,-79.5)(13.042,-87)(13.066,-99.6)(13.085,-102)(13.066,-105.8)(13.034,-121)(13.01,-131)(12.963,-134)(12.88,-146)(12.844,-140)(12.833,-122.8)(12.78,-104)}
\poly{v5}{(12.675,-79.5)(12.694,-72.4)(12.726,-80)(12.732,-102.7)(12.698,-123.8)(12.676,-123.8)}
\poly{v5}{(12.827,-99.6)(12.868,-82.6)(12.892,-79.5)(12.892,-102.7)(12.882,-130)(12.872,-127.5)(12.86,-115)(12.827,-102.7)}
\poly{v5}{(12.959,-79.5)(13.002,-78)(13.012,-96)(13.03,-97)(13.034,-104)(13.022,-107)(12.98,-123.8)(12.964,-107)}
\poly{v6}{(12.689,-79.5)(12.701,-79)(12.694,-94)}
\poly{v3}{(13.581,-110.5)(13.591,-84)(13.603,-75)(13.65,-69.3)(13.713,-76.4)(13.734,-87)(13.762,-102.7)(13.734,-122)(13.667,-123.5)(13.65,-131.5)(13.603,-126.5)(13.583,-148.5)(13.57,-130.6)}
\poly{v4}{(13.607,-103)(13.609,-78)(13.658,-74)(13.69,-76.4)(13.705,-84)(13.721,-102.7)(13.698,-113.5)(13.65,-117.6)}
\poly{v5}{(13.642,-80)(13.662,-77)(13.686,-80)(13.7,-104)(13.666,-109)(13.646,-102.7)}
\poly{v4}{(13.571,-129)(13.581,-120.7)(13.591,-129)(13.583,-136.8)}
\poly{v5}{(13.577,-129)(13.581,-124.4)(13.589,-129)(13.583,-133.7)}
\poly{v3}{(13.857,-103)(13.879,-67)(13.908,-64)(14.015,-65.6)(14.062,-71)(14.141,-76.4)(14.236,-79.5)(14.263,-90)(14.299,-103)(14.285,-129)(14.22,-140)(14.109,-149.7)(14.015,-156)(13.983,-157)(13.963,-150.7)(13.947,-156.9)(13.932,-150.7)(13.904,-160.6)(13.868,-149)(13.857,-133.7)}
\poly{v4}{(13.865,-104)(13.884,-69)(13.908,-68)(14.015,-69.3)(14.062,-75)(14.149,-79.5)(14.22,-80.4)(14.263,-103)(14.24,-121)(14.157,-138)(14.062,-144.5)(14.015,-152)(13.979,-152)(13.947,-149)(13.932,-146)(13.904,-150.7)(13.88,-147.6)(13.862,-133.7)}
\poly{v5}{(13.874,-107)(13.887,-81)(13.904,-88.8)(13.908,-79.5)(13.944,-76)(14.015,-72.7)(14.062,-79.5)(14.149,-86.6)(14.216,-88.8)(14.237,-103)(14.204,-127.5)(14.149,-131)(14.062,-139)(14.015,-146)(13.991,-141.4)(13.95,-140)(13.935,-134)(13.904,-140)(13.876,-132)}
\poly{v4}{(13.882,-107)(13.896,-130)(13.882,-134)(13.876,-124.4)}
\poly{v4}{(13.932,-122.8)(13.937,-127.5)(13.932,-132)(13.926,-127.5)}
\poly{v6}{(13.942,-104)(13.951,-81)(14.007,-78.6)(14.054,-87)(14.133,-93.5)(14.145,-103)(14.121,-121)(14.038,-130)(13.991,-135)(13.959,-124.4)}
\poly{v6}{(14.161,-103)(14.173,-101.8)(14.184,-102.7)(14.18,-105)(14.165,-105.2)}
\poly{v7}{(13.945,-103)(13.961,-88)(14.015,-85)(14.054,-93.4)(14.105,-88.8)(14.137,-100)(14.129,-112)(14.086,-124.4)(14.038,-127.5)(13.991,-131)(13.959,-118)}
\poly{v8}{(13.953,-103)(13.967,-95)(14.015,-90)(14.049,-99.6)(14.054,-103)(14.07,-95)(14.109,-95)(14.113,-103)(14.098,-116.6)(14.07,-116.6)(14.05,-105.8)(14.037,-122)(13.999,-131)(13.975,-118)}
\poly{v9}{(13.979,-103)(14.007,-97)(14.034,-97)(14.046,-103)(14.034,-112)(14.007,-116.6)(13.991,-112)}
\poly{v9}{(14.062,-103)(14.074,-98)(14.101,-97.5)(14.108,-103)(14.086,-115)(14.071,-114.5)}
\poly{v10}{(14.003,-102.7)(14.034,-102)(14.034,-104.6)(14.007,-104)}
\poly{v10}{(14.064,-102.7)(14.103,-100.6)(14.103,-107.4)(14.078,-105)}
\addplot[thick0=vn1] coordinates {(12.55,-216)(12.56,-208.5)(12.576,-195.5)(12.592,-192)(12.623,-189)(12.645,-182.5)(12.663,-187.8)(12.71,-186.9)(12.765,-191)(12.844,-185.3)(12.896,-177.6)(12.916,-182.5)(13.002,-180.7)(13.066,-177)(13.121,-178)(13.16,-181.6)(13.279,-189)(13.358,-195)(13.43,-197)(13.43,-220)(12.55,-260)} --cycle;
\poly{vn2}{(12.87,-197)(12.896,-187.8)(12.93,-192)(12.95,-197)}
\poly{vn3}{(12.885,-197)(12.896,-192)(12.905,-197)}
\addplot[thick0=vn1] coordinates {(13.48,-194)(13.595,-194)(13.6,-196)(13.611,-157)(13.645,-154)(13.667,-153.8)(13.682,-150.7)(13.726,-159)(13.73,-197)} --cycle;
\addplot[thick0=v0] coordinates {(13.614,-197)(13.634,-187)(13.689,-191)(13.697,-197)} --cycle;
\addplot[thick0=vn1] coordinates {(13.85,-200)(13.85,-192.4)(13.88,-187.8)(13.928,-182.5)(13.947,-184.7)(13.963,-179.5)(14.007,-173)(14.054,-169)(14.078,-166)(14.098,-159)(14.149,-167)(14.299,-170.8)(14.58,-173)(14.58,-260)(13.85,-260)} --cycle;
\poly{vn2}{(13.95,-195)(13.967,-189)(14.007,-183.8)(14.086,-186)(14.141,-187.8)(14.204,-189)(14.295,-195)(14.26,-201.7)(14.212,-205.7)(14.165,-203)(14.117,-203)(14.07,-211)(14.007,-209.5)(13.967,-208.8)(13.955,-201.7)}
\poly{vn3}{(13.975,-195)(13.991,-194)(14.024,-195)(13.983,-197)}
\addplot[thick0=v0] coordinates {(13.96,-240)(13.966,-229.6)(13.987,-219.7)(14.038,-227)(14.101,-231)(14.18,-232.7)(14.236,-235.8)(14.299,-243.5)(14.362,-246.6)(14.445,-250)(14.47,-262)(13.96,-262)} --cycle;
\addplot[fill=white,draw=black,line width=.9pt,line join=round] coordinates {(12.55,-236.4)(12.612,-236.4)(12.628,-195)(13.448,-195)(13.465,-159.6)(13.481,-195)(13.733,-195)(13.749,-159.6)(13.832,-159.6)(13.85,-195)(13.949,-195)(13.966,-236.4)(14.034,-236.4)(14.038,-250)(14.038,-262)(12.55,-262)} --cycle;
\end{axis}
% ---------- Froude
\begin{axis}[base,at={(70pt,36.75pt)},anchor=south west,
 ymin=0,ymax=0.4,ytick={0,0.1,0.2,0.3,0.4},yticklabels={0,0.1,0.2,0.3,0.4},
 xticklabels={12.6,12.8,13,13.2,13.4,13.6,13.8,14,14.2,14.4},
 title={Layer Froude numbers},
 xlabel={Latitude},
 every axis x label/.style={at={(axis description cs:0.5,-0.145)},anchor=center,font=\fontsize{14}{16}\selectfont,text=black!80},
 clip mode=individual,unbounded coords=jump,
 legend style={at={(0.9882,0.9666)},anchor=north east,draw=black,line width=.8pt,font=\fontsize{14}{16}\selectfont,text=black!80,
  legend cell align=left,row sep=0pt,inner sep=1pt},
 legend image code/.code={\draw[#1] (0pt,0pt) -- (45pt,0pt);}]
\addplot[color={rgb,255:red,128;green,0;blue,0},line width=1.7pt,line join=round] table[x=lat,y=red]{\Tfr};
\addlegendentry{\Fent{1}}
\addplot[color={rgb,255:red,0;green,128;blue,0},line width=1.7pt,line join=round] table[x=lat,y=green]{\Tfr};
\addlegendentry{\Fent{2}}
\addplot[color={rgb,255:red,0;green,0;blue,128},line width=1.7pt,line join=round] table[x=lat,y=blue]{\Tfr};
\addlegendentry{\Fent{3}}
\addplot[only marks,mark=triangle*,mark size=10pt,mark options={fill=black,draw=black},forget plot] coordinates {(12.677,0)};
\end{axis}
\end{tikzpicture}
\end{document}
